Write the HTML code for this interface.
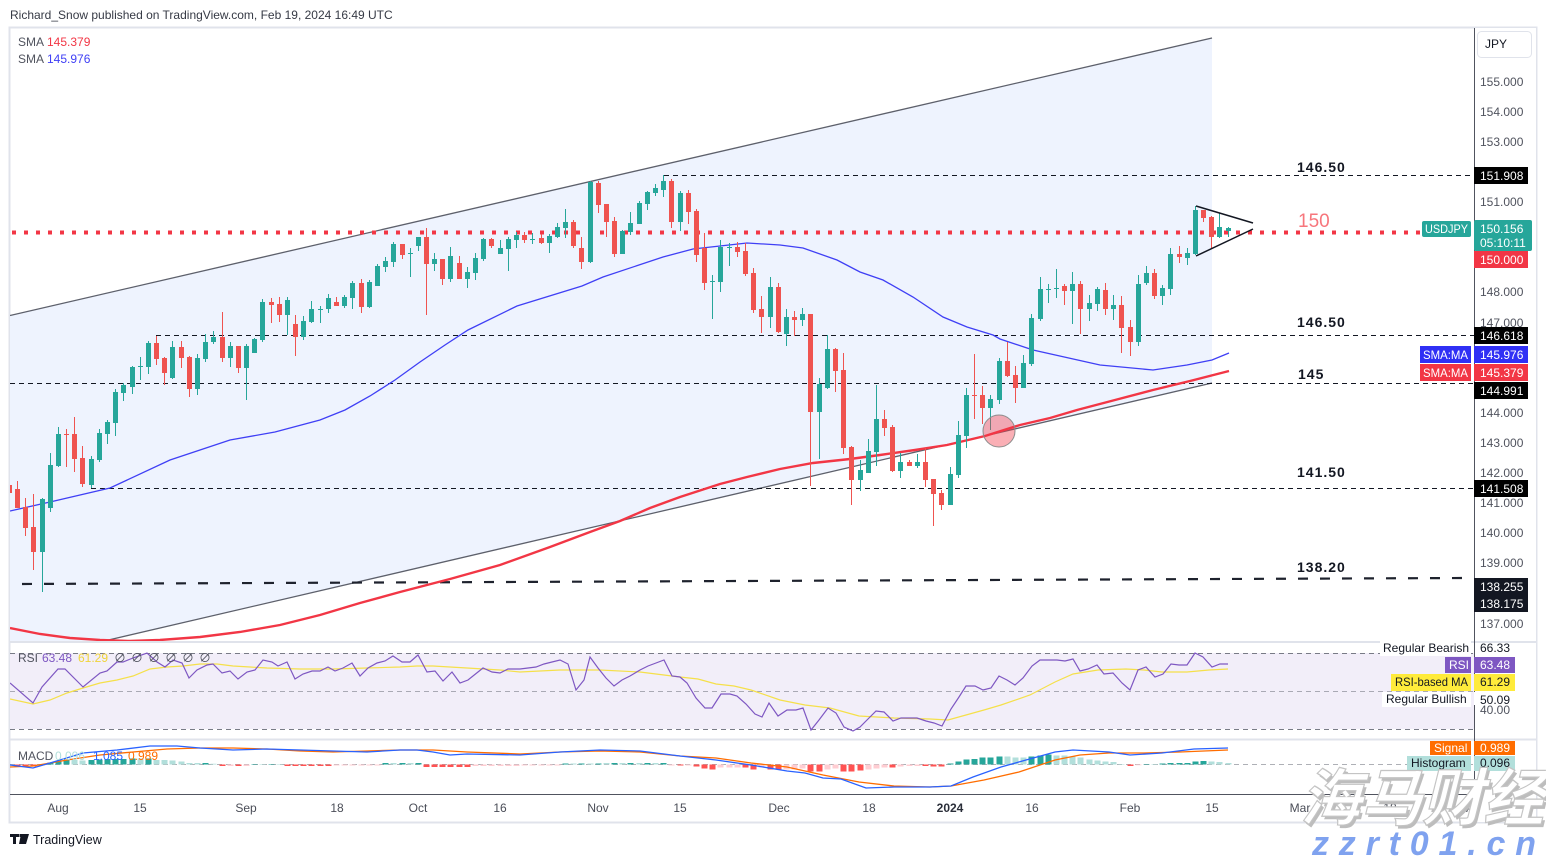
<!DOCTYPE html>
<html><head><meta charset="utf-8"><style>
html,body{margin:0;padding:0;background:#fff;}
svg{display:block;font-family:"Liberation Sans","Noto Sans CJK SC",sans-serif;}
</style></head><body>
<svg width="1546" height="857" viewBox="0 0 1546 857" xmlns="http://www.w3.org/2000/svg">
<defs>
<clipPath id="main"><rect x="10" y="28" width="1464" height="613"/></clipPath>
<clipPath id="sub"><rect x="10" y="643" width="1464" height="151"/></clipPath>
</defs>
<rect width="1546" height="857" fill="#fff"/>
<text x="10" y="19" font-size="12" fill="#363a45">Richard_Snow published on TradingView.com, Feb 19, 2024 16:49 UTC</text>

<rect x="9.5" y="27.5" width="1527" height="795" fill="none" stroke="#e0e3eb" stroke-width="2"/>

<g clip-path="url(#main)">
<polygon points="10,315 1212,38 1212,383 100,642 10,642" fill="#eef3fe"/>
<line x1="10" y1="315.5" x2="1212" y2="38" stroke="#5d606b" stroke-width="1.3"/>
<line x1="90" y1="644.3" x2="1212" y2="383" stroke="#5d606b" stroke-width="1.3"/>
<g stroke="#131722" stroke-width="1" stroke-dasharray="5 4">
<line x1="664" y1="175.5" x2="1474" y2="175.5"/>
<line x1="156" y1="335.5" x2="1474" y2="335.5"/>
<line x1="10" y1="383.5" x2="1474" y2="383.5"/>
<line x1="91" y1="488.5" x2="1474" y2="488.5"/>
</g>
<line x1="22" y1="584" x2="1462" y2="578" stroke="#1e222d" stroke-width="2.2" stroke-dasharray="10 12"/>
<line x1="12" y1="232.5" x2="1420" y2="232.5" stroke="#f23645" stroke-width="4" stroke-dasharray="4 8"/>
<path d="M10 511 L50 502 L110 488 L170 460 L230 440 L275 432 L320 420 L345 410 L370 396 L395 380 L420 362 L445 345 L468 330 L517 306 L582 286 L603 277 L663 257 L693 249 L720 246 L747 243 L780 245 L803 248 L837 260 L860 272 L883 280 L913 297 L943 317 L967 327 L993 335 L1000 339 L1033 350 L1100 365 L1153 370 L1187 365 L1212 360 L1229 353" fill="none" stroke="#3f3ff5" stroke-width="1.3"/>
<path d="M10 628 L40 634 L70 638 L100 640 L130 641 L160 640 L200 637 L240 632 L280 625 L320 615 L360 603 L400 592 L450 579 L500 565 L550 547 L590 532 L620 521 L650 508 L680 497 L720 484 L747 477 L780 469 L813 463 L850 459 L880 455 L915 450 L947 445 L985 436 L1020 425 L1050 418 L1077 410 L1115 400 L1153 390 L1190 381 L1229 371" fill="none" stroke="#f23645" stroke-width="2.4"/>
<g stroke="#26a69a" fill="none">
<path stroke-width="1" d="M42.5 498V592 M50.5 453V512 M58.5 427V467 M91.5 456V488 M99.5 429V462 M107.5 420V444 M115.5 389V436 M123.5 383V401 M132.5 366V394 M140.5 357V380 M148.5 341V374 M172.5 341V379 M197.5 354V395 M205.5 334V362 M213.5 331V344 M230.5 342V367 M246.5 344V400 M254.5 338V353 M262.5 299V342 M287.5 297V335 M303.5 316V340 M311.5 301V323 M320.5 306V323 M328.5 294V313 M344.5 295V308 M352.5 281V309 M369.5 280V308 M377.5 264V286 M385.5 257V272 M393.5 242V267 M410.5 248V277 M418.5 237V251 M434.5 253V271 M450.5 247V282 M467.5 267V288 M475.5 253V280 M483.5 238V261 M500.5 240V254 M508.5 237V271 M516.5 232V248 M532.5 233V244 M549.5 234V253 M557.5 223V238 M565.5 209V238 M590.5 181V263 M622.5 230V254 M630.5 212V235 M639.5 201V224 M647.5 191V210 M655.5 184V196 M663.5 175V197 M680.5 191V231 M712.5 275V319 M720.5 240V292 M729.5 243V266 M770.5 277V328 M786.5 309V346 M802.5 308V326 M819.5 378V459 M827.5 335V389 M860.5 460V491 M868.5 439V473 M876.5 385V466 M900.5 453V478 M917.5 454V468 M950.5 467V505 M958.5 421V478 M966.5 388V448 M990.5 395V430 M999.5 358V404 M1023.5 355V388 M1031.5 314V366 M1040.5 277V321 M1048.5 284V303 M1056.5 269V298 M1072.5 272V324 M1089.5 295V321 M1097.5 287V311 M1113.5 295V320 M1138.5 275V346 M1146.5 266V285 M1162.5 285V305 M1170.5 248V295 M1187.5 248V265 M1195.5 206V255 M1219.5 213V238 M1228.5 227V237"/>
<path stroke-width="5" d="M42.5 499V552 M50.5 465V508 M58.5 434V466 M91.5 459V485 M99.5 433V460 M107.5 422V434 M115.5 392V423 M123.5 385V393 M132.5 367V387 M140.5 366V367 M148.5 343V367 M172.5 347V378 M197.5 358V389 M205.5 342V359 M213.5 337V342 M230.5 346V358 M246.5 346V368 M254.5 339V353 M262.5 302V340 M287.5 300V315 M303.5 321V337 M311.5 309V322 M320.5 309V310 M328.5 298V309 M344.5 297V306 M352.5 283V298 M369.5 282V307 M377.5 266V286 M385.5 261V267 M393.5 244V262 M410.5 253V254 M418.5 237V246 M434.5 259V264 M450.5 256V279 M467.5 272V279 M475.5 258V273 M483.5 239V259 M500.5 248V254 M508.5 239V249 M516.5 235V240 M532.5 239V240 M549.5 236V243 M557.5 227V237 M565.5 222V228 M590.5 182V262 M622.5 231V254 M630.5 223V232 M639.5 203V224 M647.5 192V204 M655.5 188V193 M663.5 181V190 M680.5 193V222 M712.5 281V282 M720.5 247V282 M729.5 247V248 M770.5 287V317 M786.5 317V334 M802.5 314V320 M819.5 384V412 M827.5 349V388 M860.5 470V480 M868.5 451V473 M876.5 419V452 M900.5 462V471 M917.5 462V466 M950.5 474V505 M958.5 435V475 M966.5 395V436 M990.5 399V408 M999.5 361V400 M1023.5 363V388 M1031.5 318V364 M1040.5 289V319 M1048.5 289V290 M1056.5 288V289 M1072.5 284V291 M1089.5 303V309 M1097.5 289V304 M1113.5 305V309 M1138.5 284V342 M1146.5 273V283 M1162.5 288V296 M1170.5 254V289 M1187.5 253V258 M1195.5 210V254 M1219.5 227V237 M1228.5 228V231"/>
</g>
<g stroke="#ef5350" fill="none">
<path stroke-width="1" d="M9.5 482V495 M17.5 481V508 M25.5 498V536 M33.5 494V570 M66.5 429V467 M74.5 417V472 M82.5 446V487 M156.5 336V365 M164.5 357V385 M181.5 341V368 M189.5 356V397 M222.5 312V362 M238.5 346V373 M271.5 298V323 M279.5 297V322 M295.5 315V356 M336.5 297V306 M361.5 279V313 M402.5 244V259 M426.5 228V315 M442.5 259V285 M459.5 256V279 M491.5 238V248 M524.5 232V243 M541.5 234V244 M573.5 220V248 M581.5 237V269 M598.5 181V213 M606.5 204V237 M614.5 217V257 M671.5 179V228 M688.5 190V224 M696.5 209V262 M704.5 233V290 M737.5 242V257 M745.5 243V276 M753.5 268V313 M761.5 296V333 M778.5 283V333 M794.5 311V336 M810.5 314V486 M835.5 348V392 M843.5 353V454 M851.5 446V505 M884.5 410V436 M892.5 425V472 M909.5 460V466 M925.5 448V487 M933.5 479V526 M941.5 490V510 M974.5 354V419 M982.5 386V424 M1007.5 342V377 M1015.5 366V403 M1064.5 284V305 M1080.5 281V334 M1105.5 283V315 M1121.5 296V353 M1130.5 320V356 M1154.5 269V299 M1179.5 246V263 M1203.5 210V222 M1211.5 216V248"/>
<path stroke-width="5" d="M9.5 485V493 M17.5 489V508 M25.5 507V528 M33.5 527V552 M66.5 434V435 M74.5 434V459 M82.5 458V484 M156.5 343V359 M164.5 358V373 M181.5 347V358 M189.5 357V389 M222.5 337V358 M238.5 346V368 M271.5 302V305 M279.5 304V315 M295.5 324V337 M336.5 302V306 M361.5 283V307 M402.5 244V255 M426.5 237V264 M442.5 259V279 M459.5 263V279 M491.5 239V246 M524.5 235V240 M541.5 238V243 M573.5 222V246 M581.5 248V262 M598.5 183V205 M606.5 204V222 M614.5 221V254 M671.5 181V222 M688.5 193V212 M696.5 211V255 M704.5 248V283 M737.5 247V252 M745.5 251V274 M753.5 273V310 M761.5 309V317 M778.5 287V332 M794.5 317V320 M810.5 314V412 M835.5 349V371 M843.5 370V448 M851.5 447V480 M884.5 419V428 M892.5 427V471 M909.5 462V466 M925.5 462V480 M933.5 479V494 M941.5 493V505 M974.5 395V396 M982.5 395V408 M1007.5 361V376 M1015.5 375V388 M1064.5 286V291 M1080.5 284V309 M1105.5 290V309 M1121.5 305V328 M1130.5 327V342 M1154.5 273V296 M1179.5 254V257 M1203.5 210V218 M1211.5 217V237"/>
</g>
<line x1="1196" y1="206" x2="1253" y2="223" stroke="#131722" stroke-width="1.5"/>
<line x1="1196" y1="256" x2="1253" y2="229" stroke="#131722" stroke-width="1.5"/>
<circle cx="999" cy="431" r="16" fill="#f23645" fill-opacity="0.4" stroke="#8c8c8c" stroke-width="1"/>
</g>

<g font-size="14" font-weight="bold" fill="#131722" letter-spacing="1">
<text x="1297" y="172">146.50</text>
<text x="1297" y="327">146.50</text>
<text x="1298" y="379">145</text>
<text x="1297" y="477">141.50</text>
<text x="1297" y="572">138.20</text>
</g>
<text x="1298" y="227" font-size="19" fill="#f7767c">150</text>

<g font-size="12">
<text x="18" y="46" fill="#50535e">SMA</text><text x="47" y="46" fill="#f23645">145.379</text>
<text x="18" y="63" fill="#50535e">SMA</text><text x="47" y="63" fill="#3f3ff5">145.976</text>
</g>

<line x1="10" y1="642" x2="1536" y2="642" stroke="#e0e3eb" stroke-width="2"/>
<line x1="10" y1="739.5" x2="1536" y2="739.5" stroke="#e0e3eb" stroke-width="2"/>

<g clip-path="url(#sub)">
<rect x="10" y="653" width="1464" height="76" fill="#f2eef9"/>
<g stroke="#787b86" stroke-width="1" stroke-dasharray="5 4">
<line x1="10" y1="653.5" x2="1474" y2="653.5"/>
<line x1="10" y1="691.5" x2="1474" y2="691.5" stroke-opacity="0.6"/>
<line x1="10" y1="729.5" x2="1474" y2="729.5"/>
<line x1="10" y1="764.5" x2="1474" y2="764.5" stroke-opacity="0.6"/>
</g>
<path d="M10 699 L33 704 L50 700 L67 693 L83 688 L100 683 L117 680 L133 676 L150 669 L167 667 L183 666 L200 664 L217 664 L233 666 L250 667 L267 668 L300 669 L333 669 L367 668 L400 667 L417 666 L433 666 L467 668 L500 670 L520 672 L560 670 L600 670 L640 672 L680 677 L698 679 L716 684 L734 686 L751 690 L780 700 L805 705 L830 708 L859 716 L894 718 L930 719 L948 720 L966 715 L984 710 L1001 705 L1030 695 L1055 682 L1073 674 L1098 670 L1126 669 L1144 670 L1162 672 L1187 672 L1209 670 L1228 669" fill="none" stroke="#f5e04a" stroke-width="1.2"/>
<path d="M10 683 L33 703 L42 687 L58 669 L65 669 L83 687 L100 673 L107 671 L117 662 L123 662 L133 658 L147 653 L157 662 L165 667 L173 660 L182 663 L189 678 L197 670 L207 665 L213 664 L222 673 L230 671 L238 679 L247 672 L255 670 L263 660 L272 662 L278 666 L287 662 L295 679 L303 674 L312 671 L320 671 L328 667 L335 671 L343 668 L352 663 L360 676 L368 668 L377 663 L385 661 L393 656 L402 662 L410 662 L418 655 L427 672 L435 671 L443 681 L452 672 L460 683 L468 680 L483 668 L492 672 L500 673 L508 669 L520 669 L528 668 L536 667 L544 664 L552 662 L560 660 L568 664 L576 690 L584 680 L590 657 L598 668 L606 678 L614 686 L622 680 L630 676 L640 670 L648 666 L656 663 L664 660 L672 676 L680 677 L687 683 L696 698 L705 708 L712 708 L721 694 L730 694 L737 696 L746 704 L755 714 L762 717 L769 703 L778 716 L787 710 L796 710 L803 708 L811 730 L819 720 L828 708 L836 713 L844 727 L853 731 L860 727 L867 720 L876 711 L884 712 L893 721 L901 718 L910 718 L917 718 L926 721 L934 723 L942 726 L951 709 L959 697 L966 686 L975 686 L983 690 L991 688 L999 676 L1007 680 L1015 685 L1023 678 L1032 666 L1040 660 L1057 660 L1065 661 L1073 659 L1080 671 L1088 669 L1097 665 L1104 674 L1113 673 L1122 683 L1130 690 L1138 670 L1146 667 L1155 677 L1163 674 L1171 664 L1179 665 L1187 665 L1195 653 L1203 657 L1212 667 L1220 664 L1228 664" fill="none" stroke="#7e57c2" stroke-width="1.2"/>

<g stroke-width="6" fill="none">
<path stroke="#26a69a" d="M50.5 764.5V762.5 M58.5 764.5V761 M66.5 764.5V759.5 M91.5 764.5V760 M99.5 764.5V759.5 M107.5 764.5V759 M115.5 764.5V759 M123.5 764.5V759 M132.5 764.5V758.5 M148.5 764.5V758.5 M205.5 764.5V763 M254.5 764.5V764 M271.5 764.5V764 M385.5 764.5V763 M402.5 764.5V763 M418.5 764.5V763 M565.5 764.5V763.5 M581.5 764.5V763.5 M598.5 764.5V763.5 M614.5 764.5V763 M630.5 764.5V763 M647.5 764.5V763 M663.5 764.5V763 M950.5 764.5V763.5 M958.5 764.5V761.5 M966.5 764.5V759.5 M974.5 764.5V759 M982.5 764.5V757.5 M990.5 764.5V757.5 M999.5 764.5V756.5 M1031.5 764.5V756.5 M1040.5 764.5V755.5 M1048.5 764.5V754.5 M1146.5 764.5V764 M1162.5 764.5V763.5 M1170.5 764.5V763 M1179.5 764.5V763 M1187.5 764.5V763 M1195.5 764.5V761.5 M1203.5 764.5V761"/>
<path stroke="#b2dfdb" d="M74.5 764.5V760 M82.5 764.5V760.5 M140.5 764.5V758.5 M156.5 764.5V760 M164.5 764.5V760 M172.5 764.5V760.5 M181.5 764.5V761.5 M189.5 764.5V763 M197.5 764.5V763 M213.5 764.5V763.8 M262.5 764.5V764 M279.5 764.5V764 M393.5 764.5V763 M410.5 764.5V763 M573.5 764.5V763.5 M590.5 764.5V763.5 M606.5 764.5V763 M622.5 764.5V763 M639.5 764.5V763 M655.5 764.5V763 M1007.5 764.5V756.5 M1015.5 764.5V757.5 M1023.5 764.5V757.5 M1056.5 764.5V755.5 M1064.5 764.5V755.5 M1072.5 764.5V756.5 M1080.5 764.5V757.5 M1089.5 764.5V759.5 M1097.5 764.5V760.5 M1105.5 764.5V761.5 M1113.5 764.5V762 M1121.5 764.5V764 M1154.5 764.5V764 M1211.5 764.5V761.5 M1219.5 764.5V762 M1228.5 764.5V763"/>
<path stroke="#ff5252" d="M17.5 764.5V766.5 M25.5 764.5V766.5 M33.5 764.5V766.5 M222.5 764.5V766 M238.5 764.5V766 M287.5 764.5V766 M295.5 764.5V766 M303.5 764.5V766 M311.5 764.5V766 M320.5 764.5V766 M328.5 764.5V766 M426.5 764.5V767 M434.5 764.5V767 M442.5 764.5V767 M450.5 764.5V767 M459.5 764.5V767 M467.5 764.5V767 M680.5 764.5V765.5 M696.5 764.5V766.5 M704.5 764.5V768.5 M712.5 764.5V769.5 M745.5 764.5V767.5 M753.5 764.5V769.5 M770.5 764.5V769.5 M778.5 764.5V769.5 M810.5 764.5V771.5 M819.5 764.5V771.5 M843.5 764.5V771.5 M851.5 764.5V771.5 M860.5 764.5V770.5 M892.5 764.5V767.5 M925.5 764.5V766 M933.5 764.5V766.5 M941.5 764.5V766.5 M1130.5 764.5V766"/>
<path stroke="#ffcdd2" d="M42.5 764.5V765.5 M230.5 764.5V766 M246.5 764.5V766 M336.5 764.5V765.5 M344.5 764.5V765.5 M352.5 764.5V765.5 M361.5 764.5V765.5 M369.5 764.5V765.5 M377.5 764.5V765.5 M475.5 764.5V766 M483.5 764.5V766 M491.5 764.5V766 M500.5 764.5V766 M508.5 764.5V766 M516.5 764.5V766 M524.5 764.5V765.5 M532.5 764.5V765.5 M541.5 764.5V765.5 M549.5 764.5V765.5 M557.5 764.5V765.5 M671.5 764.5V765.5 M688.5 764.5V765.5 M720.5 764.5V767.5 M729.5 764.5V767.5 M737.5 764.5V767.5 M761.5 764.5V767.5 M786.5 764.5V769.5 M794.5 764.5V769.5 M802.5 764.5V768.5 M827.5 764.5V769.5 M835.5 764.5V768.5 M868.5 764.5V769.5 M876.5 764.5V768.5 M884.5 764.5V767.5 M900.5 764.5V766.5 M909.5 764.5V766 M917.5 764.5V766 M1138.5 764.5V765.2"/>
</g>
<path d="M10 767 L33 766 L67 760 L100 755 L133 752 L167 749 L200 748 L233 748 L267 749 L300 751 L333 752 L367 751 L400 750 L433 750 L467 752 L520 754 L560 752 L600 751 L640 752 L680 756 L716 758 L751 763 L787 767 L823 775 L859 782 L894 786 L930 787 L951 786 L984 780 L1019 772 L1055 760 L1080 755 L1109 753 L1144 753 L1180 752 L1228 750" fill="none" stroke="#ff6d00" stroke-width="1.3"/>
<path d="M10 765 L33 768 L50 763 L83 753 L117 750 L150 746 L177 746 L200 748 L233 750 L267 749 L300 750 L333 751 L367 752 L400 750 L417 750 L433 752 L450 755 L467 754 L520 755 L560 752 L600 750 L640 751 L680 756 L716 760 L751 765 L787 771 L805 773 L823 778 L841 779 L866 788 L894 787 L930 787 L951 786 L973 777 L1001 767 L1026 760 L1055 752 L1073 750 L1109 752 L1130 755 L1162 753 L1194 749 L1228 748" fill="none" stroke="#2962ff" stroke-width="1.3"/>
</g>

<g font-size="12">
<text x="18" y="662" fill="#50535e">RSI</text>
<text x="42" y="662" fill="#7e57c2">63.48</text>
<text x="78" y="662" fill="#f0d43a">61.29</text>
<text x="114" y="662" fill="#50535e" letter-spacing="5">∅∅∅∅∅∅</text>
<text x="18" y="760" fill="#50535e">MACD</text>
<text x="55" y="760" fill="#b2dfdb">0.096</text>
<text x="93" y="760" fill="#2962ff">1.085</text>
<text x="128" y="760" fill="#ff6d00">0.989</text>
</g>

<line x1="10" y1="794.5" x2="1474" y2="794.5" stroke="#50535e" stroke-width="1"/>
<g font-size="12" fill="#4a4d57" text-anchor="middle">
<text x="58" y="812">Aug</text><text x="140" y="812">15</text><text x="246" y="812">Sep</text><text x="337" y="812">18</text>
<text x="418" y="812">Oct</text><text x="500" y="812">16</text><text x="598" y="812">Nov</text><text x="680" y="812">15</text>
<text x="779" y="812">Dec</text><text x="869" y="812">18</text><text x="950" y="812" font-weight="bold" fill="#2a2e39">2024</text>
<text x="1032" y="812">16</text><text x="1130" y="812">Feb</text><text x="1212" y="812">15</text>
<text x="1300" y="812">Mar</text><text x="1390" y="812">18</text><text x="1470" y="812">A</text>
</g>

<rect x="1475" y="28" width="61" height="794" fill="#fff"/>
<line x1="1474.5" y1="28" x2="1474.5" y2="822" stroke="#50535e" stroke-width="1"/>
<line x1="1475" y1="642" x2="1536" y2="642" stroke="#e0e3eb" stroke-width="2"/>
<line x1="1475" y1="739.5" x2="1536" y2="739.5" stroke="#e0e3eb" stroke-width="2"/>
<rect x="1477.5" y="31.5" width="54" height="26" rx="4" fill="#fff" stroke="#e0e3eb"/>
<text x="1485" y="48" font-size="12" fill="#131722">JPY</text>
<g font-size="12" fill="#50535e">
<text x="1480" y="86">155.000</text><text x="1480" y="116">154.000</text><text x="1480" y="146">153.000</text>
<text x="1480" y="206">151.000</text><text x="1480" y="296">148.000</text><text x="1480" y="327">147.000</text>
<text x="1480" y="417">144.000</text><text x="1480" y="447">143.000</text><text x="1480" y="477">142.000</text>
<text x="1480" y="507">141.000</text><text x="1480" y="537">140.000</text><text x="1480" y="567">139.000</text>
<text x="1480" y="628">137.000</text>
<text x="1480" y="714">40.00</text>
</g>
<g font-size="12" fill="#fff">
<rect x="1474" y="167" width="54" height="17" fill="#000"/><text x="1480" y="180">151.908</text>
<rect x="1422" y="221" width="49" height="16" rx="2" fill="#26a69a"/><text x="1425" y="233" textLength="43" lengthAdjust="spacingAndGlyphs">USDJPY</text>
<rect x="1474" y="220" width="58" height="31" rx="2" fill="#26a69a"/><text x="1480" y="233">150.156</text><text x="1480" y="247">05:10:11</text>
<rect x="1474" y="251" width="54" height="17" fill="#f23645"/><text x="1480" y="264">150.000</text>
<rect x="1474" y="327" width="54" height="17" fill="#000"/><text x="1480" y="340">146.618</text>
<rect x="1420" y="346" width="51" height="17" fill="#3030f5"/><text x="1423" y="359" textLength="45" lengthAdjust="spacingAndGlyphs">SMA:MA</text>
<rect x="1474" y="346" width="54" height="17" fill="#3030f5"/><text x="1480" y="359">145.976</text>
<rect x="1420" y="364" width="51" height="17" fill="#f23645"/><text x="1423" y="377" textLength="45" lengthAdjust="spacingAndGlyphs">SMA:MA</text>
<rect x="1474" y="364" width="54" height="17" fill="#f23645"/><text x="1480" y="377">145.379</text>
<rect x="1474" y="382" width="54" height="17" fill="#000"/><text x="1480" y="395">144.991</text>
<rect x="1474" y="480" width="54" height="17" fill="#000"/><text x="1480" y="493">141.508</text>
<rect x="1474" y="578" width="54" height="34" fill="#131722"/><text x="1480" y="591">138.255</text><text x="1480" y="608">138.175</text>
</g>
<g font-size="12">
<rect x="1380" y="641" width="91" height="15" fill="#fff"/><text x="1383" y="652" fill="#131722">Regular Bearish</text>
<text x="1480" y="652" fill="#131722">66.33</text>
<rect x="1445" y="657" width="26" height="16" fill="#7e57c2"/><text x="1449" y="669" fill="#fff">RSI</text>
<rect x="1474" y="657" width="41" height="16" fill="#7e57c2"/><text x="1480" y="669" fill="#fff">63.48</text>
<rect x="1391" y="674" width="80" height="17" fill="#ffeb3b"/><text x="1395" y="686" fill="#131722" textLength="73" lengthAdjust="spacingAndGlyphs">RSI-based MA</text>
<rect x="1474" y="674" width="41" height="17" fill="#ffeb3b"/><text x="1480" y="686" fill="#131722">61.29</text>
<rect x="1382" y="692" width="89" height="15" fill="#fff"/><rect x="1474" y="692" width="40" height="13" fill="#fff"/>
<text x="1386" y="703" fill="#131722">Regular Bullish</text><text x="1480" y="704" fill="#131722">50.09</text>
<rect x="1430" y="741" width="41" height="14" fill="#ff6d00"/><text x="1434" y="752" fill="#fff">Signal</text>
<rect x="1474" y="741" width="41" height="14" fill="#ff6d00"/><text x="1480" y="752" fill="#fff">0.989</text>
<rect x="1407" y="756" width="64" height="15" fill="#b2dfdb"/><text x="1411" y="767" fill="#131722">Histogram</text>
<rect x="1474" y="756" width="41" height="15" fill="#b2dfdb"/><text x="1480" y="767" fill="#131722">0.096</text>
</g>

<path d="M10 834h9v3h-3v7h-3v-7h-3z M21 834h4l-3 10h-3z M25 834h4l-3 10h-4z" fill="#131722"/>
<rect x="19.5" y="834" width="3" height="3" fill="#131722"/>
<text x="33" y="844" font-size="12.5" fill="#131722">TradingView</text>

<g transform="translate(1300,820) skewX(-14)">
<text x="3" y="3" font-size="62" font-weight="bold" fill="#bdbdbd" font-family="'Noto Sans CJK SC','WenQuanYi Zen Hei',sans-serif" textLength="244" lengthAdjust="spacingAndGlyphs">海马财经</text>
<text x="0" y="0" font-size="62" font-weight="bold" fill="#ffffff" stroke="#c4c4c4" stroke-width="1.2" font-family="'Noto Sans CJK SC','WenQuanYi Zen Hei',sans-serif" textLength="244" lengthAdjust="spacingAndGlyphs">海马财经</text>
</g>
<text x="1312" y="855" font-size="34" font-weight="bold" font-style="italic" fill="#7fa2ef" textLength="224" lengthAdjust="spacing">zzrt01.cn</text>
</svg>
</body></html>
